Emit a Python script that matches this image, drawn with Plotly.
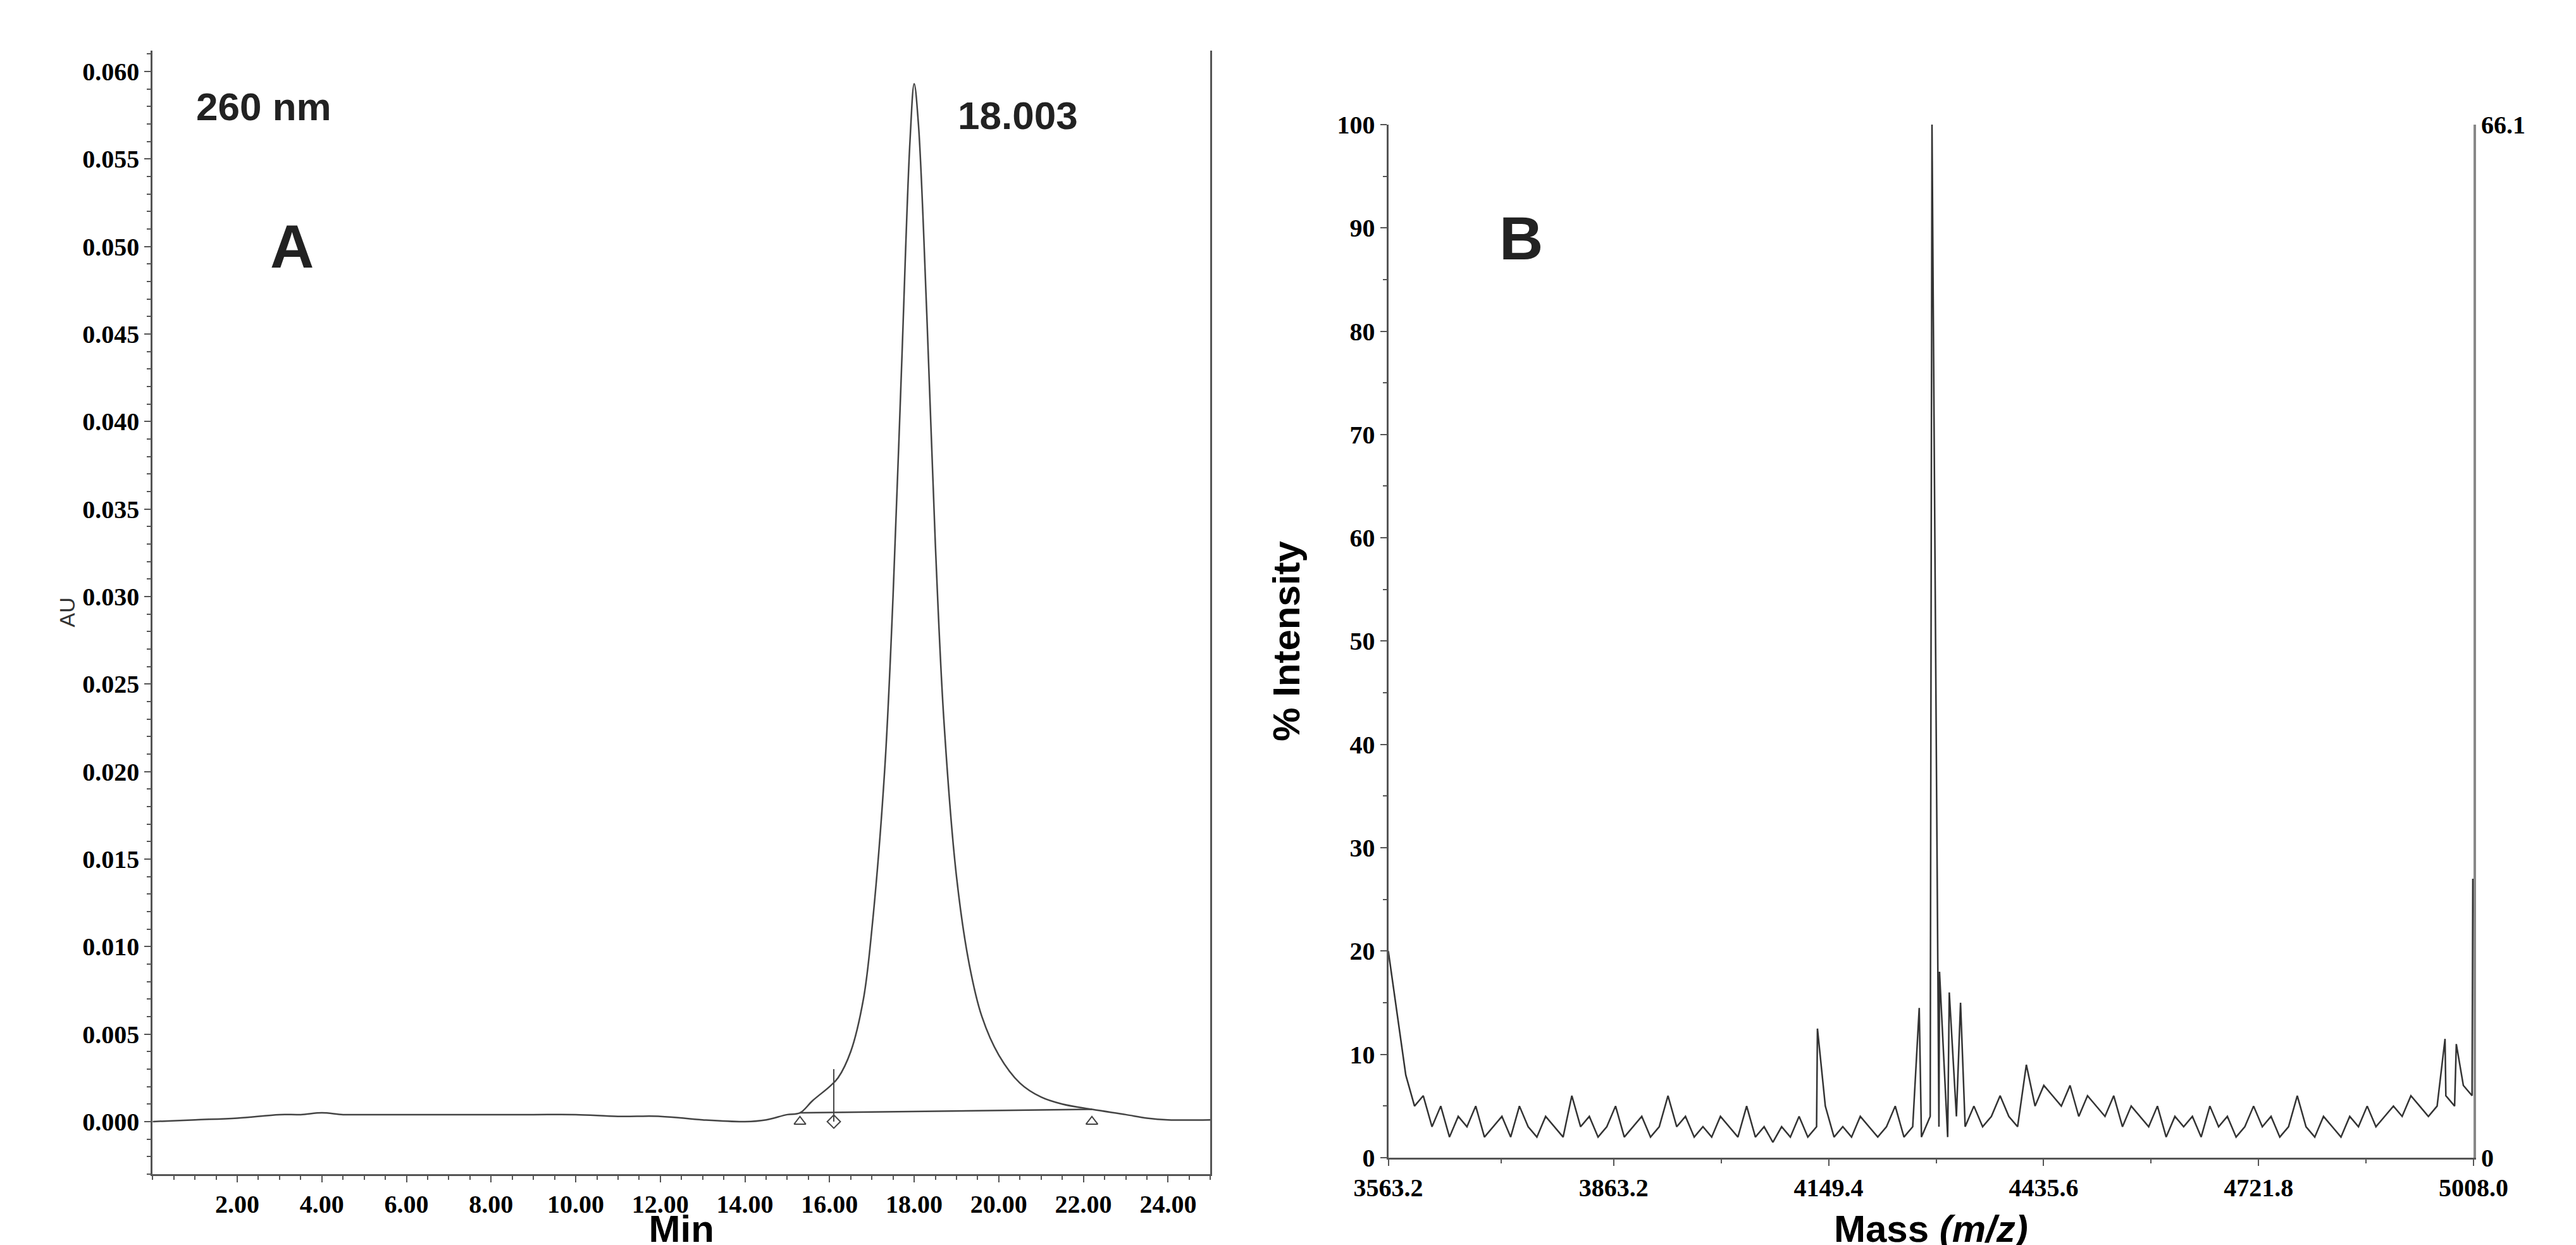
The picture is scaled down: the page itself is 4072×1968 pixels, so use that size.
import numpy as np
import plotly.graph_objects as go

# --- panel A: HPLC chromatogram at 260 nm
t_min = [0, 1, 2, 3, 3.5, 4, 4.5, 5, 6, 7, 8, 9, 10, 11, 12, 13, 14, 14.5, 15, 15.3, 15.6,
         16.0, 16.2, 16.5, 16.8, 17.0, 17.3, 17.5, 17.7, 17.9, 18.0, 18.1, 18.3, 18.5, 18.7,
         19.0, 19.3, 19.6, 20.0, 20.5, 21.0, 21.5, 22.2, 23.0, 23.5, 24.0, 25.0]
au = [0.0000, 0.0001, 0.0002, 0.0004, 0.0004, 0.0005, 0.0004, 0.0004, 0.0004, 0.0004, 0.0004,
      0.0004, 0.0004, 0.0003, 0.0003, 0.0001, 0.0000, 0.0001, 0.0004, 0.0005, 0.0012,
      0.0020, 0.0025, 0.0040, 0.0070, 0.0110, 0.0200, 0.0300, 0.0430, 0.0560, 0.0593, 0.0570,
      0.0460, 0.0330, 0.0230, 0.0140, 0.0090, 0.0060, 0.0038, 0.0022, 0.0014, 0.0010, 0.0007,
      0.0004, 0.0002, 0.0001, 0.0001]
base_t = [15.3, 22.2]
base_au = [0.0005, 0.0007]
drop_t = 16.1
peak_label = "18.003"

# --- panel B: MALDI mass spectrum
mz_lo, mz_hi = 3563.2, 5008.0
mz_ticks = [3563.2, 3863.2, 4149.4, 4435.6, 4721.8, 5008.0]
noise = [20, 14, 8, 5, 6, 3, 5, 2, 4, 3, 5, 2, 3, 4, 2, 5, 3, 2, 4, 3,
         2, 6, 3, 4, 2, 3, 5, 2, 3, 4, 2, 3, 6, 3, 4, 2, 3, 2, 4, 3,
         2, 5, 2, 3, 1.5, 3, 2, 4, 2, 3, 5, 2, 3, 2, 4, 3, 2, 3, 5, 2,
         3, 2, 4, 3, 2, 4, 3, 5, 3, 4, 6, 4, 3, 9, 5, 7, 6, 5, 7, 4,
         6, 5, 4, 6, 3, 5, 4, 3, 5, 2, 4, 3, 4, 2, 5, 3, 4, 2, 3, 5,
         3, 4, 2, 3, 6, 3, 2, 4, 3, 2, 4, 3, 5, 3, 4, 5, 4, 6, 5, 4,
         5, 6, 5, 7, 6]
peaks_mz = [4134.5, 4270.0, 4287.0, 4297.0, 4310.0, 4325.0, 4970.0, 4985.0, 5007.0]
peaks_int = [12.5, 14.5, 100.0, 18.0, 16.0, 15.0, 11.5, 11.0, 27.0]
right_max = 66.1

noise_mz = list(np.linspace(mz_lo, mz_hi - 2, len(noise)))
spec = sorted(zip(noise_mz + peaks_mz, noise + peaks_int))
spec_mz = [p[0] for p in spec]
spec_int = [p[1] for p in spec]

fig = go.Figure()
line_c = "#444444"
fig.add_trace(go.Scatter(x=t_min, y=au, mode="lines", line=dict(color=line_c, width=2.5, shape="spline"),
                         xaxis="x", yaxis="y", showlegend=False))
fig.add_trace(go.Scatter(x=base_t, y=base_au, mode="lines", line=dict(color=line_c, width=2.5),
                         xaxis="x", yaxis="y", showlegend=False))
fig.add_trace(go.Scatter(x=[drop_t, drop_t], y=[0.0, 0.0030], mode="lines", line=dict(color=line_c, width=2),
                         xaxis="x", yaxis="y", showlegend=False))
fig.add_trace(go.Scatter(x=base_t + [drop_t], y=[0.0, 0.0, 0.0], mode="markers",
                         marker=dict(symbol=["triangle-up-open", "triangle-up-open", "diamond-open"],
                                     size=16, color=line_c, line=dict(width=2)),
                         xaxis="x", yaxis="y", showlegend=False))

fig.add_trace(go.Scatter(x=spec_mz, y=spec_int, mode="lines", line=dict(color="#333333", width=2.5),
                         xaxis="x2", yaxis="y2", showlegend=False))
fig.add_trace(go.Scatter(x=[mz_lo], y=[0], mode="markers", marker=dict(opacity=0),
                         xaxis="x2", yaxis="y3", showlegend=False, hoverinfo="skip"))

tick_font = dict(family="Liberation Serif", size=40, color="black", weight="bold")
ax_common = dict(showline=True, linecolor="#555555", linewidth=3, showgrid=False, zeroline=False,
                 ticks="outside", ticklen=10, tickwidth=2, tickcolor="#555555", tickfont=tick_font)

fig.update_layout(
    width=4072, height=1968, margin=dict(l=0, r=0, t=0, b=0),
    paper_bgcolor="white", plot_bgcolor="white",
    xaxis=dict(domain=[0.045, 0.467], anchor="y", range=[0, 25],
               tickvals=[2, 4, 6, 8, 10, 12, 14, 16, 18, 20, 22, 24],
               ticktext=["%.2f" % v for v in [2, 4, 6, 8, 10, 12, 14, 16, 18, 20, 22, 24]],
               minor=dict(dtick=0.5, ticks="outside", ticklen=6, tickcolor="#555555"),
               title=dict(text="<b>Min</b>", font=dict(family="Arial", size=60, color="black"), standoff=8),
               **ax_common),
    yaxis=dict(domain=[0.048, 0.974], anchor="x", range=[-0.003, 0.0612], mirror=True,
               tickvals=[i * 0.005 for i in range(13)],
               ticktext=["%.3f" % (i * 0.005) for i in range(13)],
               minor=dict(dtick=0.001, ticks="outside", ticklen=6, tickcolor="#555555"),
               title=dict(text="AU", font=dict(family="Arial", size=34, color="#333333"), standoff=2),
               **ax_common),
    xaxis2=dict(domain=[0.538, 0.971], anchor="y2", range=[mz_lo, mz_hi],
                tickvals=mz_ticks, ticktext=["%.1f" % v for v in mz_ticks],
                minor=dict(tickvals=[3713.2, 4006.3, 4292.5, 4578.7, 4864.9], ticks="outside",
                           ticklen=6, tickcolor="#555555"),
                title=dict(text="<b>Mass <i>(m/z)</i></b>", font=dict(family="Arial", size=60, color="black"),
                           standoff=30),
                **ax_common),
    yaxis2=dict(domain=[0.0615, 0.913], anchor="x2", range=[0, 100], dtick=10,
                minor=dict(dtick=5, ticks="outside", ticklen=6, tickcolor="#555555"),
                title=dict(text="<b>% Intensity</b>", font=dict(family="Arial", size=60, color="black"),
                           standoff=40),
                **ax_common),
    yaxis3=dict(overlaying="y2", anchor="x2", side="right", range=[0, right_max],
                tickvals=[0, right_max], ticktext=["0", "66.1"], showline=True, linecolor="#888888",
                linewidth=4, showgrid=False, zeroline=False, ticks="", tickfont=tick_font),
)

ann_font = dict(family="Arial", color="#222222", weight="bold")
fig.add_annotation(x=1.0, y=0.058, xref="x", yref="y", text="260 nm", showarrow=False,
                   xanchor="left", font=dict(size=62, **ann_font))
fig.add_annotation(x=19.0, y=0.0575, xref="x", yref="y", text=peak_label, showarrow=False,
                   xanchor="left", font=dict(size=62, **ann_font))
fig.add_annotation(x=3.3, y=0.050, xref="x", yref="y", text="A", showarrow=False,
                   font=dict(size=96, **ann_font))
fig.add_annotation(x=3740, y=89, xref="x2", yref="y2", text="B", showarrow=False,
                   font=dict(size=96, **ann_font))

fig.write_html("out.html")
